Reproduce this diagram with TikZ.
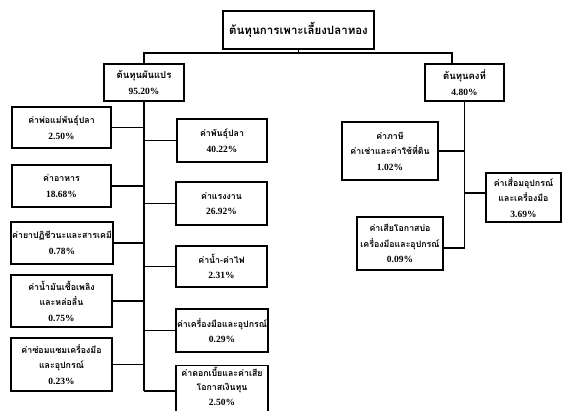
\documentclass[tikz,border=0pt]{standalone}
\usepackage{fontspec}
\setmainfont{Liberation Serif}
\newfontfamily\thaifont[Script=Thai]{Loma}
\newcommand\pc[1]{{\normalfont\bfseries\fontsize{9.5}{15}\selectfont #1}}
\begin{document}
\begin{tikzpicture}[x=1pt,y=-1pt,
  box/.style={draw,line width=1.5pt,align=center,inner sep=0pt,
    font=\thaifont\bfseries\fontsize{8.8}{15.5}\selectfont},
  mainbox/.style={box,line width=2.4pt},
  link/.style={line width=1.8pt}]
\useasboundingbox (0,0) rectangle (562,411);
% top
\node[mainbox,minimum width=151pt,minimum height=38pt,font=\thaifont\bfseries\fontsize{11.5}{16}\selectfont] (title) at (298.5,30) {ต้นทุนการเพาะเลี้ยงปลาทอง};
\node[mainbox,minimum width=80pt,minimum height=37pt,font=\thaifont\bfseries\fontsize{9.5}{16}\selectfont] (var) at (144,82.5) {ต้นทุนผันแปร\\\pc{95.20\%}};
\node[mainbox,minimum width=79pt,minimum height=37pt,font=\thaifont\bfseries\fontsize{9.5}{16}\selectfont] (fix) at (464.5,82.5) {ต้นทุนคงที่\\\pc{4.80\%}};
% left column
\node[box,minimum width=99pt,minimum height=41pt] (L1) at (61.5,127.5) {ค่าพ่อแม่พันธุ์ปลา\\\pc{2.50\%}};
\node[box,minimum width=99pt,minimum height=42pt] (L2) at (61.5,186) {ค่าอาหาร\\\pc{18.68\%}};
\node[box,minimum width=102pt,minimum height=42pt] (L3) at (62,243) {ค่ายาปฏิชีวนะและสารเคมี\\\pc{0.78\%}};
\node[box,minimum width=101pt,minimum height=52pt] (L4) at (61.5,301) {ค่าน้ำมันเชื้อเพลิง\\และหล่อลื่น\\\pc{0.75\%}};
\node[box,minimum width=101pt,minimum height=53pt] (L5) at (61.5,364.5) {ค่าซ่อมแซมเครื่องมือ\\และอุปกรณ์\\\pc{0.23\%}};
% right column
\node[box,minimum width=90pt,minimum height=43pt] (R1) at (222,140.5) {ค่าพันธุ์ปลา\\\pc{40.22\%}};
\node[box,minimum width=91pt,minimum height=43pt] (R2) at (221.5,203.5) {ค่าแรงงาน\\\pc{26.92\%}};
\node[box,minimum width=91pt,minimum height=41pt] (R3) at (221.5,266.5) {ค่าน้ำ-ค่าไฟ\\\pc{2.31\%}};
\node[box,minimum width=92pt,minimum height=43pt] (R4) at (222,330.5) {ค่าเครื่องมือและอุปกรณ์\\\pc{0.29\%}};
\node[box,minimum width=92pt,inner ysep=1pt,anchor=north,text depth=15pt,font=\thaifont\bfseries\fontsize{8.8}{14.5}\selectfont] (R5) at (222,365) {ค่าดอกเบี้ยและค่าเสีย\\โอกาสเงินทุน\\{\normalfont\bfseries\fontsize{9.5}{14.5}\selectfont 2.50\%}};
% fixed children
\node[box,minimum width=96pt,minimum height=58pt] (F1) at (390,151) {ค่าภาษี\\ค่าเช่าและค่าใช้ที่ดิน\\\pc{1.02\%}};
\node[box,minimum width=75pt,minimum height=49pt] (F2) at (523.5,197.5) {ค่าเสื่อมอุปกรณ์\\และเครื่องมือ\\\pc{3.69\%}};
\node[box,minimum width=86pt,minimum height=53pt] (F3) at (400,243.5) {ค่าเสียโอกาสบ่อ\\เครื่องมือและอุปกรณ์\\\pc{0.09\%}};
% connectors
\coordinate (hub) at (298.5,53);
\coordinate (fixin) at (452,64);
\coordinate (fend) at (464.5,248);
\coordinate (vend) at (144,391);
\draw[link] (title.south) -- (hub);
\draw[link] (var.north) |- (hub) -| (fixin);
\draw[link] (var.south) -- (vend);
\draw[link] (fix.south) -- (fend);
\foreach \n in {L1,L2,L3,L4,L5}{\draw[link] (\n.east) -- (\n.east -| vend);}
\foreach \n in {R1,R2,R3,R4}{\draw[link] (\n.west) -- (\n.west -| vend);}
\draw[link] (vend) -- (vend -| R5.west);
\draw[link] (F1.east) -- (F1.east -| fend);
\draw[link] ([yshift=4.5pt]F2.west) -- ([yshift=4.5pt]F2.west -| fend);
\draw[link] ([yshift=-4.5pt]F3.east) -- ([yshift=-4.5pt]F3.east -| fend);
\end{tikzpicture}
\end{document}
